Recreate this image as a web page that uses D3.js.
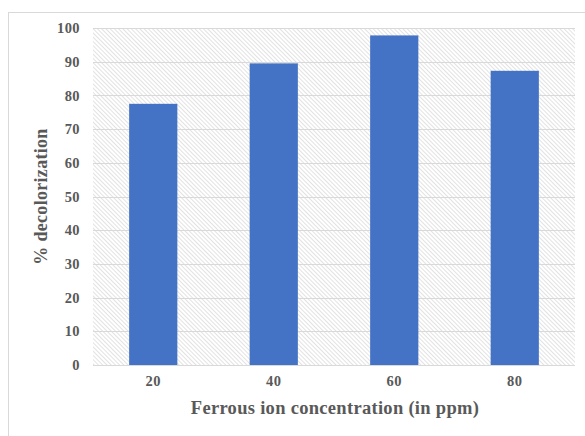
<!DOCTYPE html>
<html>
<head>
<meta charset="utf-8">
<script src="https://cdn.jsdelivr.net/npm/d3@7"></script>
<style>
  html, body { margin: 0; padding: 0; background: #fff; }
  svg { display: block; }
  text { font-family: "Liberation Serif", "Times New Roman", serif; font-weight: bold; fill: #595959; }
</style>
</head>
<body>
<div id="chart"></div>
<script>
// Decolorization vs. ferrous ion dose
const categories = ["20", "40", "60", "80"];
const decolorization = [77.5, 89.5, 97.8, 87.3];
const yTicks = [0, 10, 20, 30, 40, 50, 60, 70, 80, 90, 100];

const W = 585, H = 436;
const plot = { left: 93, right: 575, top: 28, bottom: 365 };
const serif = '"Liberation Serif", "Times New Roman", serif';

const svg = d3.select("#chart").append("svg").attr("width", W).attr("height", H);

// fine diagonal hatch fill for the plot background
const defs = svg.append("defs");
const pat = defs.append("pattern")
  .attr("id", "hatch")
  .attr("patternUnits", "userSpaceOnUse")
  .attr("width", 3).attr("height", 3)
  .attr("patternTransform", "rotate(-45)");
pat.append("rect").attr("width", 3).attr("height", 3).attr("fill", "#ffffff");
pat.append("rect").attr("x", 0).attr("y", 0).attr("width", 1).attr("height", 3).attr("fill", "#e2e2e2");

// chart frame
svg.append("rect")
  .attr("x", 8.5).attr("y", 12.5)
  .attr("width", W + 10).attr("height", H + 10)
  .attr("fill", "none").attr("stroke", "#d9d9d9");

const x = d3.scaleBand().domain(categories).range([plot.left, plot.right]).paddingInner(0.6).paddingOuter(0.3);
const y = d3.scaleLinear().domain([0, 100]).range([plot.bottom, plot.top]);

svg.append("rect")
  .attr("x", plot.left).attr("y", plot.top)
  .attr("width", plot.right - plot.left).attr("height", plot.bottom - plot.top)
  .attr("fill", "url(#hatch)");

// gridlines
svg.append("g").selectAll("line").data(yTicks).join("line")
  .attr("x1", plot.left).attr("x2", plot.right)
  .attr("y1", d => Math.round(y(d)) + 0.5).attr("y2", d => Math.round(y(d)) + 0.5)
  .attr("stroke", "#d9d9d9").attr("stroke-width", 1.2);

// bars
svg.append("g").selectAll("rect").data(decolorization).join("rect")
  .attr("x", (d, i) => x(categories[i]))
  .attr("y", d => y(d))
  .attr("width", x.bandwidth())
  .attr("height", d => y(0) - y(d))
  .attr("fill", "#4472c4");

// y axis
const yAxis = svg.append("g")
  .attr("transform", `translate(${plot.left},0)`)
  .call(d3.axisLeft(y).tickValues(yTicks).tickSize(0).tickPadding(13));
yAxis.select(".domain").remove();
yAxis.selectAll("text").attr("font-size", 14.5).attr("fill", "#595959")
  .style("font-family", serif).style("font-weight", "bold").style("letter-spacing", "0.4px");

// x axis
const xAxis = svg.append("g")
  .attr("transform", `translate(0,${plot.bottom})`)
  .call(d3.axisBottom(x).tickSize(0).tickPadding(11));
xAxis.select(".domain").remove();
xAxis.selectAll("text").attr("font-size", 14.5).attr("fill", "#595959")
  .style("font-family", serif).style("font-weight", "bold").style("letter-spacing", "0.4px");

// axis titles
svg.append("text")
  .attr("x", (plot.left + plot.right) / 2 + 1).attr("y", 414)
  .attr("text-anchor", "middle").attr("font-size", 18.5)
  .style("letter-spacing", "0.3px")
  .text("Ferrous ion concentration (in ppm)");

svg.append("text")
  .attr("transform", `translate(47,${(plot.top + plot.bottom) / 2}) rotate(-90)`)
  .attr("text-anchor", "middle").attr("font-size", 18)
  .style("letter-spacing", "0.3px")
  .text("% decolorization");
</script>
</body>
</html>
